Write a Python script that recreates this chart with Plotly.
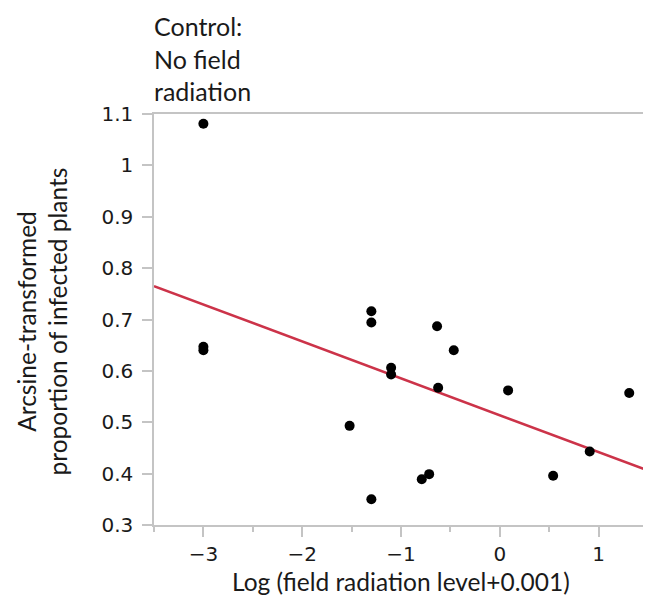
import plotly.graph_objects as go

# Data
log_radiation = [-3.0, -3.0, -3.0, -1.52, -1.30, -1.30, -1.30, -1.10, -1.10,
                 -0.79, -0.715, -0.635, -0.624, -0.466, 0.084, 0.54, 0.91, 1.31]
infected = [1.081, 0.647, 0.640, 0.493, 0.716, 0.694, 0.350, 0.606, 0.593,
            0.389, 0.399, 0.687, 0.567, 0.640, 0.562, 0.396, 0.443, 0.557]
fit_x = [-3.5, 1.5]
fit_y = [0.765, 0.406]

x_ticks = [-3, -2, -1, 0, 1]
y_ticks = [0.3, 0.4, 0.5, 0.6, 0.7, 0.8, 0.9, 1.0, 1.1]
y_tick_text = ["0.3", "0.4", "0.5", "0.6", "0.7", "0.8", "0.9", "1", "1.1"]

AX = "#c4c4c4"
TXT = "#1a1a1a"
TITLE_FONT = "Lato"
TICK_FONT = "DejaVu Sans"

fig = go.Figure()
fig.add_trace(go.Scatter(x=fit_x, y=fit_y, mode="lines",
                         line=dict(color="#cc3349", width=2.6),
                         hoverinfo="skip", showlegend=False))
fig.add_trace(go.Scatter(x=log_radiation, y=infected, mode="markers",
                         marker=dict(color="black", size=10),
                         showlegend=False))

fig.update_layout(
    width=643, height=594,
    margin=dict(l=146, r=3, t=106, b=77, autoexpand=False),
    paper_bgcolor="white", plot_bgcolor="white",
    font=dict(family=TITLE_FONT, color=TXT),
    xaxis=dict(range=[-3.5, 1.5], tickvals=x_ticks, ticks="outside",
               ticklen=10, tickwidth=1.5, tickcolor=AX,
               minor=dict(dtick=0.5, tick0=0, ticks="outside", ticklen=5,
                          tickwidth=1.5, tickcolor=AX),
               showline=True, linecolor=AX, linewidth=1.5, mirror=True,
               showgrid=False, zeroline=False, automargin=False,
               tickfont=dict(family=TICK_FONT, size=20, color=TXT)),
    yaxis=dict(range=[0.3, 1.1], tickvals=y_ticks, ticktext=y_tick_text,
               ticks="outside", ticklen=10, tickwidth=1.5, tickcolor=AX,
               showline=True, linecolor=AX, linewidth=1.5, mirror=True,
               showgrid=False, zeroline=False, automargin=False,
               ticklabelstandoff=5,
               tickfont=dict(family=TICK_FONT, size=20, color=TXT)),
    annotations=[
        dict(text="Control:<br>No field<br>radiation",
             xref="paper", yref="paper", x=0, y=1, xanchor="left",
             yanchor="bottom", align="left", showarrow=False,
             xshift=-1, yshift=7, borderpad=0,
             font=dict(family=TITLE_FONT, size=25, color=TXT)),
        dict(text="Log (field radiation level+0.001)",
             xref="paper", yref="paper", x=0.5, y=0, xanchor="center",
             yanchor="middle", showarrow=False, yshift=-56,
             font=dict(family=TITLE_FONT, size=24.5, color=TXT)),
        dict(text="Arcsine-transformed<br>proportion of infected plants",
             xref="paper", yref="paper", x=0, y=0.5, xanchor="center",
             yanchor="middle", showarrow=False, textangle=-90,
             xshift=-112.5, yshift=-2.5,
             font=dict(family=TITLE_FONT, size=24.5, color=TXT)),
    ],
)

fig.write_html("out.html")
